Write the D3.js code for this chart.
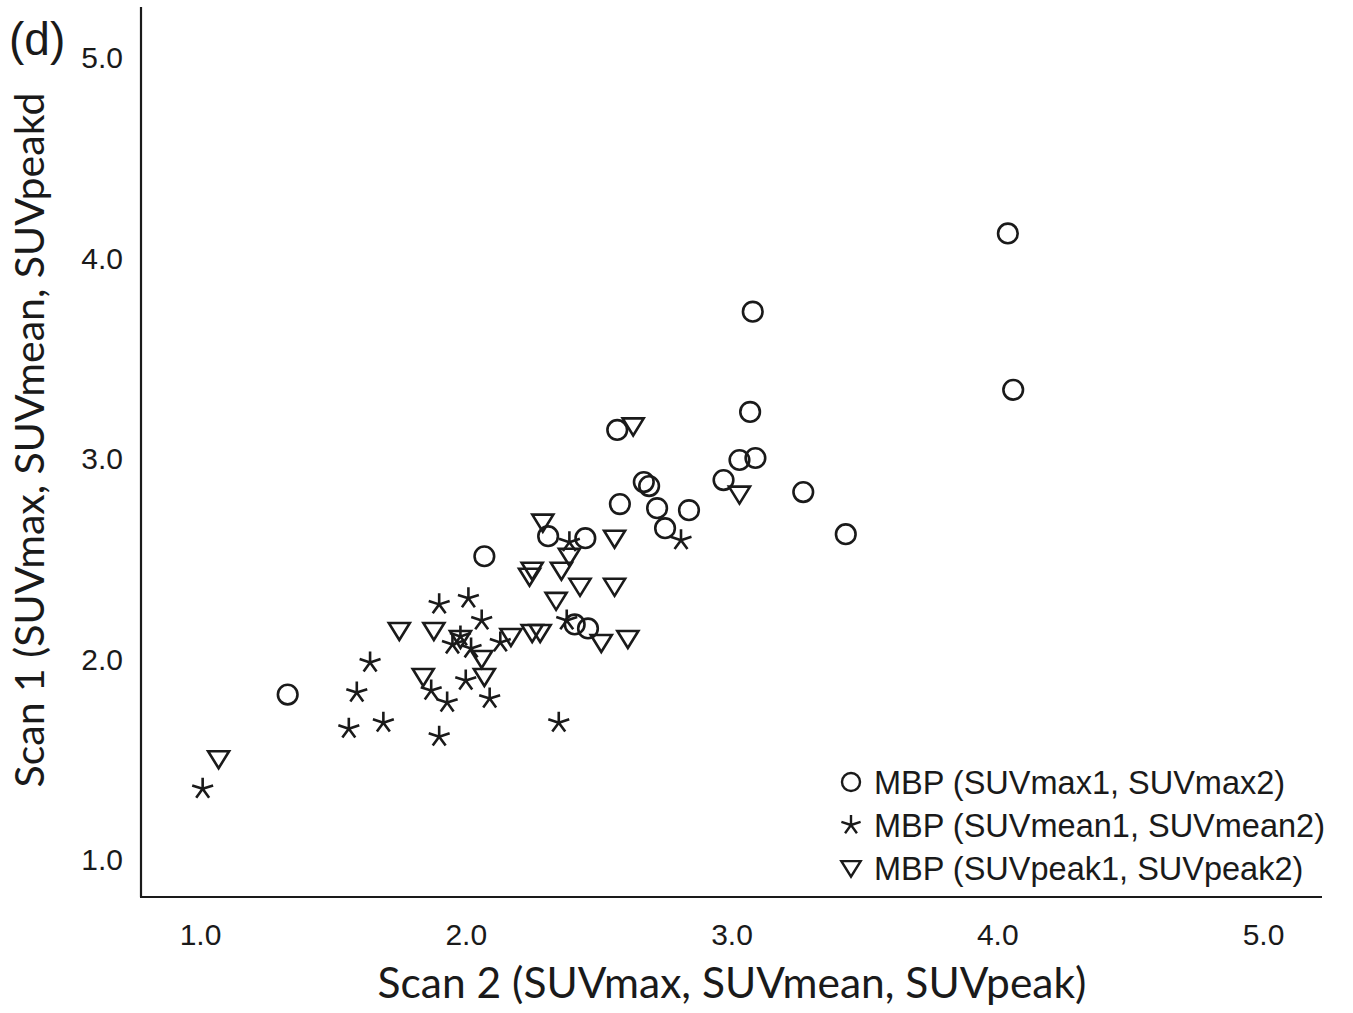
<!DOCTYPE html>
<html><head><meta charset="utf-8">
<script src="https://cdn.jsdelivr.net/npm/d3@7"></script>
<style>body{margin:0;background:#fff}</style>
</head><body>
<svg id="c" width="1353" height="1013"></svg>
<script>
// ---- data ----
const xTicks = [1.0, 2.0, 3.0, 4.0, 5.0];
const yTicks = [1.0, 2.0, 3.0, 4.0, 5.0];
const panelLabel = "(d)";
const xTitle = "Scan 2 (SUVmax, SUVmean, SUVpeak)";
const yTitle = "Scan 1 (SUVmax, SUVmean, SUVpeakd";
const seriesNames = ["MBP (SUVmax1, SUVmax2)", "MBP (SUVmean1, SUVmean2)", "MBP (SUVpeak1, SUVpeak2)"];
const seriesShapes = ["circle", "star", "triangle"];

const maxScan2 = [1.33,2.07,2.31,2.45,2.57,2.58,2.67,2.69,2.72,2.84,2.75,2.97,3.03,3.09,3.07,3.08,3.27,3.43,4.04,4.06,2.41,2.46];
const maxScan1 = [1.82,2.51,2.61,2.60,3.14,2.77,2.88,2.86,2.75,2.74,2.65,2.89,2.99,3.00,3.23,3.73,2.83,2.62,4.12,3.34,2.17,2.15];

const meanScan2 = [1.01,1.56,1.69,1.59,1.64,1.90,1.87,1.93,1.90,2.01,2.06,1.98,1.95,2.02,2.00,2.09,2.13,2.35,2.38,2.39,2.81];
const meanScan1 = [1.35,1.65,1.68,1.83,1.98,1.61,1.84,1.78,2.27,2.30,2.19,2.11,2.07,2.05,1.89,1.80,2.08,1.68,2.19,2.58,2.59];

const peakScan2 = [1.07,1.75,1.88,1.84,1.98,2.06,2.07,2.17,2.25,2.28,2.29,2.39,2.25,2.24,2.36,2.43,2.56,2.34,2.56,2.63,2.51,2.61,3.03];
const peakScan1 = [1.50,2.14,2.14,1.91,2.10,2.00,1.91,2.11,2.13,2.13,2.68,2.51,2.44,2.41,2.44,2.36,2.36,2.29,2.60,3.16,2.08,2.10,2.82];

const series = [
  {name: seriesNames[0], shape: seriesShapes[0], xs: maxScan2, ys: maxScan1},
  {name: seriesNames[1], shape: seriesShapes[1], xs: meanScan2, ys: meanScan1},
  {name: seriesNames[2], shape: seriesShapes[2], xs: peakScan2, ys: peakScan1}
];

// ---- layout ----
const svg = d3.select("#c");
const plot = {left: 141, right: 1322, top: 7, bottom: 897};
const x = d3.scaleLinear().domain([1, 5]).range([200, 1263]);
const y = d3.scaleLinear().domain([1, 5]).range([859, 57]);
const ink = "#1a1a1a";
const tickFont = "'Liberation Sans', Arial, sans-serif";
const titleFont = "Lato, 'Open Sans', sans-serif";

// axes
const gx = svg.append("g").attr("transform", `translate(0,${plot.bottom})`)
  .call(d3.axisBottom(x).tickValues(xTicks).tickSize(0).tickPadding(0).tickFormat(d3.format(".1f")));
gx.select(".domain").remove();
gx.selectAll("text").attr("dy", null).attr("y", 48)
  .style("font-family", tickFont).style("font-size", "30px").attr("fill", ink);

const gy = svg.append("g").attr("transform", `translate(123,0)`)
  .call(d3.axisLeft(y).tickValues(yTicks).tickSize(0).tickPadding(0).tickFormat(d3.format(".1f")));
gy.select(".domain").remove();
gy.selectAll("text").attr("x", 0).attr("dy", "0.36em")
  .style("font-family", tickFont).style("font-size", "30px").attr("fill", ink);

svg.append("line").attr("x1", plot.left).attr("x2", plot.left).attr("y1", plot.top).attr("y2", plot.bottom)
  .attr("stroke", ink).attr("stroke-width", 2.2);
svg.append("line").attr("x1", plot.left - 1).attr("x2", plot.right).attr("y1", plot.bottom).attr("y2", plot.bottom)
  .attr("stroke", ink).attr("stroke-width", 2.2);

// titles
svg.append("text").attr("x", 732).attr("y", 998).attr("text-anchor", "middle")
  .style("font-family", titleFont).style("font-size", "42.5px").attr("fill", ink).text(xTitle);
svg.append("text").attr("transform", "translate(44,440) rotate(-90)").attr("text-anchor", "middle")
  .style("font-family", titleFont).style("font-size", "41px").attr("fill", ink).text(yTitle);
svg.append("text").attr("x", 9).attr("y", 55)
  .style("font-family", tickFont).style("font-size", "46px").attr("fill", ink).text(panelLabel);

// marker shapes
function starPath(L) {
  let p = "";
  for (let i = 0; i < 5; i++) {
    const a = i * 2 * Math.PI / 5;
    p += `M0,0L${(L * Math.sin(a)).toFixed(2)},${(-L * Math.cos(a)).toFixed(2)}`;
  }
  return p;
}
function drawMarker(g, shape, s) {
  if (shape === "circle") {
    g.append("circle").attr("r", 9.8 * s);
  } else if (shape === "star") {
    g.append("path").attr("d", starPath(11 * s));
  } else {
    g.append("path").attr("d", `M${-10.5*s},${-7.5*s}L${10.5*s},${-7.5*s}L0,${9.5*s}Z`);
  }
}

const marks = svg.append("g").attr("fill", "none").attr("stroke", ink)
  .attr("stroke-width", 2.6).attr("stroke-linejoin", "miter");
series.forEach(sr => {
  sr.xs.forEach((vx, i) => {
    const g = marks.append("g").attr("transform", `translate(${x(vx)},${y(sr.ys[i])})`);
    drawMarker(g, sr.shape, 1);
  });
});

// legend
const leg = svg.append("g");
series.forEach((sr, i) => {
  const cy = 782 + i * 43;
  const g = leg.append("g").attr("transform", `translate(851,${cy})`)
    .attr("fill", "none").attr("stroke", ink).attr("stroke-width", 2.4);
  drawMarker(g, sr.shape, 0.92);
  leg.append("text").attr("x", 874).attr("y", cy).attr("dy", "0.36em")
    .style("font-family", tickFont).style("font-size", "32.5px").attr("fill", ink).text(sr.name);
});
</script>
</body></html>
